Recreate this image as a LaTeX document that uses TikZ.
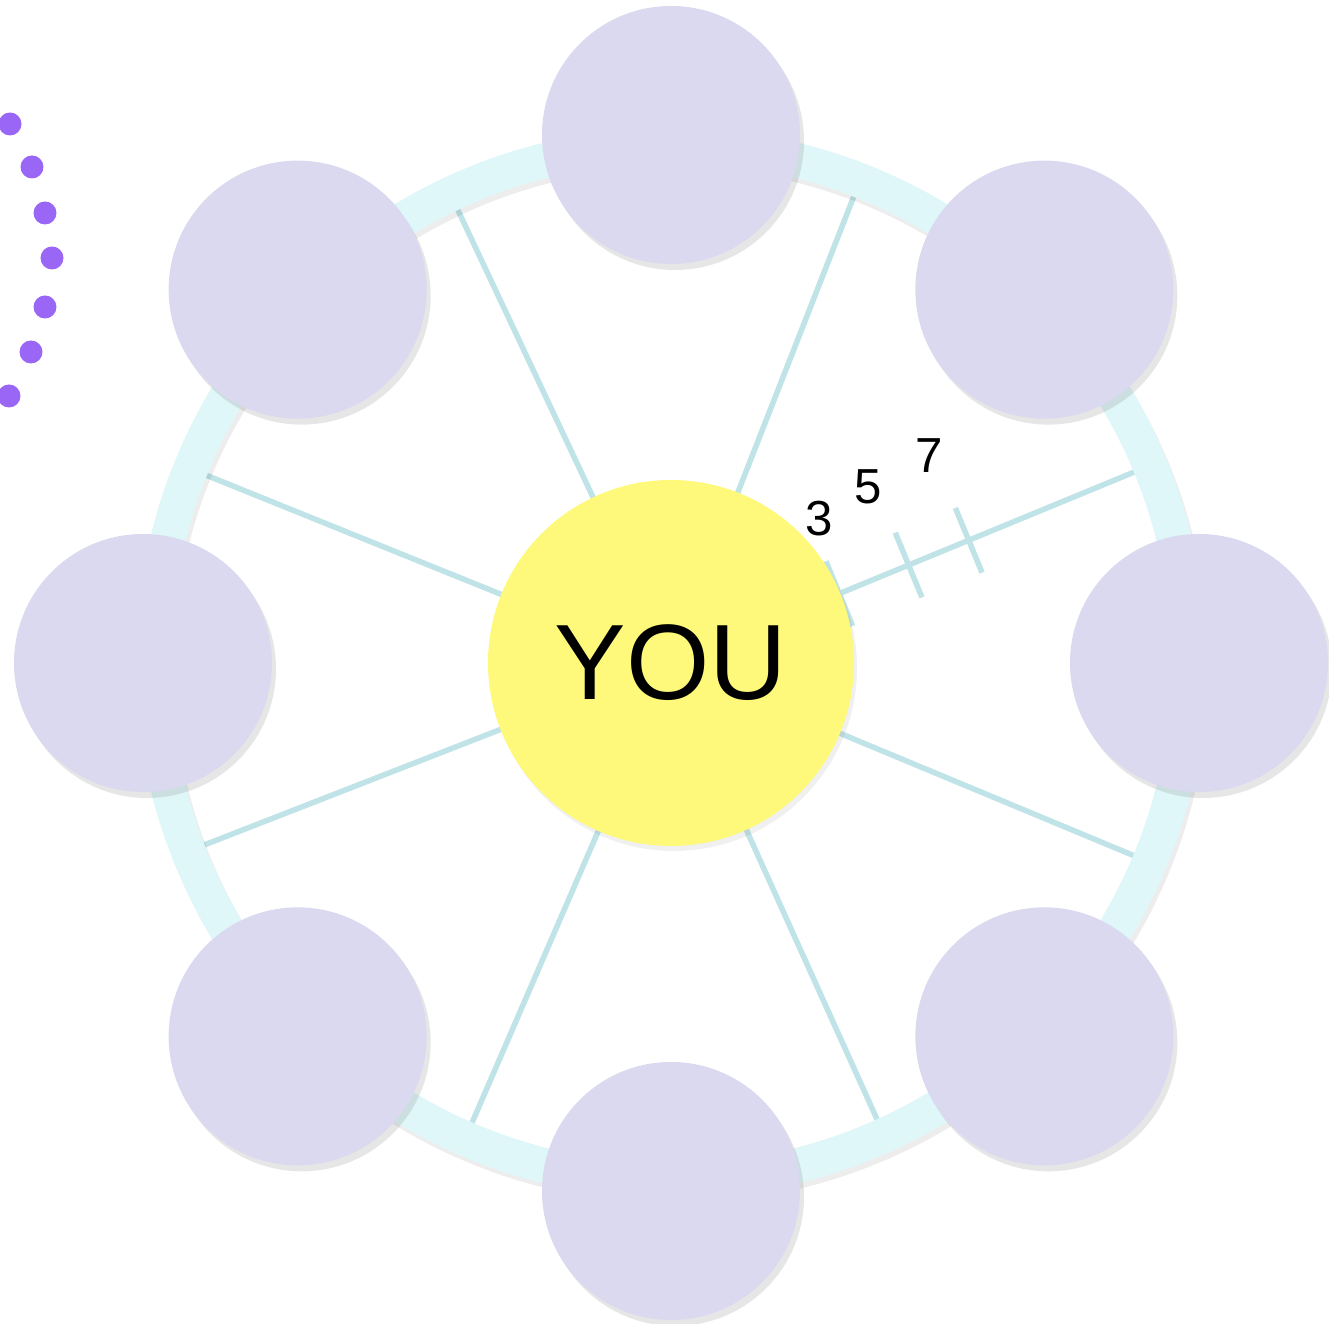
\documentclass[tikz,border=0pt]{standalone}
\usepackage{fontspec}
\setmainfont{Liberation Sans}
\usetikzlibrary{shadows,calc}
\definecolor{lav}{HTML}{DAD9F0}
\definecolor{sun}{HTML}{FEF97A}
\definecolor{rim}{HTML}{E0F7F9}
\definecolor{spk}{HTML}{BFE3E6}
\definecolor{dotc}{HTML}{9A66F6}
\tikzset{
  person/.style={circle,fill=lav,minimum size=25.8mm,inner sep=0pt,
    drop shadow={shadow xshift=.4mm,shadow yshift=-.6mm,opacity=.2}},
  selfnode/.style={circle,fill=sun,minimum size=36.6mm,inner sep=0pt,
    font=\fontsize{30.5}{30}\selectfont,
    drop shadow={shadow xshift=.3mm,shadow yshift=-.5mm,opacity=.12}},
  spoke/.style={draw=spk,line width=.55mm},
  tickmark/.style={draw=spk,line width=.55mm},
  num/.style={font=\fontsize{14}{14}\selectfont,inner sep=0pt},
  dot/.style={fill=dotc}
}
\begin{document}
\begin{tikzpicture}[x=.1mm,y=.1mm]
\useasboundingbox (0,0) rectangle (1329,1324);
\coordinate (hub) at (671,661);
\foreach \a [count=\i] in {22.4,68.6,115.2,158,201.3,246.6,294.3,337.4}{
  \coordinate (s\i) at ($(hub)+(\a:508)$);
  \draw[spoke] (hub) -- (s\i);}
\draw[black,opacity=.07,line width=3.5mm] ([xshift=.3mm,yshift=-.5mm]hub) circle[radius=518];
\draw[rim,line width=3.5mm] (hub) circle[radius=518];
\foreach \r in {182,257,322}
  \draw[tickmark] ($(hub)+(22.4:\r)+(112.4:35)$) -- ($(hub)+(22.4:\r)+(-67.6:35)$);
\node[selfnode] (you) at (hub) {YOU};
\foreach \i in {1,...,8}
  \node[person] (p\i) at ($(hub)+(\i*45-45:528)$) {};
\node[num] (l3) at (819,805) {3};
\node[num] (l5) at (868,837) {5};
\node[num] (l7) at (929,868) {7};
\foreach \x/\y in {10/1200,32/1157,45/1111,52/1066,45/1017,31/972,9/928}
  \fill[dot] (\x,\y) circle[radius=11.5];
\end{tikzpicture}
\end{document}
